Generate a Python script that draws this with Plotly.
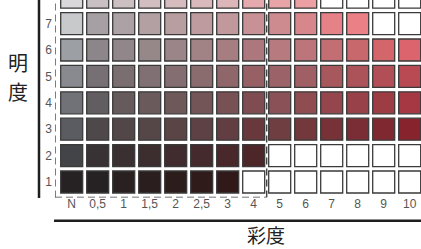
import plotly.graph_objects as go

# ---- data ----
chroma_labels = ["N", "0,5", "1", "1,5", "2", "2,5", "3", "4", "5", "6", "7", "8", "9", "10"]
value_labels = ["1", "2", "3", "4", "5", "6", "7", "8"]

# colours, one list per value (明度) row; None = empty (white) cell
v8_colors = ["#dad8da", "#c8c0c3", "#cdc0c3", "#d2bec1", "#d7bcbf", "#dab9bc", "#ddb6b9", "#e4aaad", "#e8a5a8", "#eca0a3",
             None, None, None, None]
v7_colors = ["#c8c9cb", "#a6a0a4", "#aca1a4", "#b2a0a3", "#b89ea0", "#bd9b9e", "#c1989b", "#c89196", "#cd8a8f", "#d7878c",
             "#e48287", "#eb8086", None, None]
v6_colors = ["#9c9fa4", "#8c868a", "#918689", "#968789", "#9c8588", "#a18285", "#a67e82", "#ac787d", "#b67a7f", "#bc767b",
             "#c26e73", "#c8686c", "#d2666b", "#dc646c"]
v5_colors = ["#888a8f", "#767074", "#7a6e71", "#807073", "#856e71", "#8a6b6e", "#8f676b", "#966065", "#9b6368", "#a05f64",
             "#a6585d", "#ac5259", "#b24e55", "#b94a54"]
v4_colors = ["#707277", "#625d60", "#665a5d", "#6a5a5c", "#6f585a", "#735558", "#785155", "#7e4c51", "#8a5256", "#8f4c51",
             "#94464c", "#994148", "#9e3c44", "#a53842"]
v3_colors = ["#5a5c61", "#4e484b", "#524649", "#554648", "#5a4446", "#5d4144", "#623e42", "#69383d", "#6e3e41", "#72383c",
             "#763237", "#7a2d34", "#802830", "#87232d"]
v2_colors = ["#424447", "#383234", "#3a3032", "#3c2d2e", "#402c2e", "#442a2c", "#48282a", "#4c2628",
             None, None, None, None, None, None]
v1_colors = ["#262223", "#262122", "#282021", "#2a1e1e", "#2d1c1c", "#301b1b", "#321919",
             None, None, None, None, None, None, None]

rows = [v1_colors, v2_colors, v3_colors, v4_colors, v5_colors, v6_colors, v7_colors, v8_colors]
boundary_between = ("4", "5")  # dashed group boundary lies between these chroma columns

# ---- build marks ----
xs, ys, cols = [], [], []
for vi, row in enumerate(rows):
    for ci, c in enumerate(row):
        xs.append(ci)
        ys.append(vi + 1)
        cols.append(c if c is not None else "#ffffff")

W, H = 421, 249
fig = go.Figure()
fig.add_trace(go.Scatter(
    x=xs, y=ys, mode="markers",
    marker=dict(symbol="square", size=22, color=cols,
                line=dict(color="#3a3a3a", width=1.3)),
    hoverinfo="skip", showlegend=False,
))

# axis geometry (pixel -> data)
px_left, px_bottom = 55.0, 197.5
col_pitch, row_pitch = 26.0, 26.4
col0_center, row1_center = 71.7, 182.0
x_min = (px_left - col0_center) / col_pitch
x_max = x_min + (W - px_left) / col_pitch
y_max = 1 + row1_center / row_pitch
y_min = y_max - px_bottom / row_pitch

tick_font = dict(family="Liberation Sans, Arial", size=12, color="#555555")
fig.update_xaxes(
    domain=[px_left / W, 1], range=[x_min, x_max],
    tickmode="array", tickvals=list(range(len(chroma_labels))), ticktext=chroma_labels,
    showgrid=False, zeroline=False, showline=False, ticks="",
    tickfont=tick_font, ticklabelstandoff=-3,
)
fig.update_yaxes(
    domain=[(H - px_bottom) / H, 1], range=[y_min, y_max],
    tickmode="array", tickvals=list(range(1, len(value_labels) + 1)), ticktext=value_labels,
    showgrid=False, zeroline=False, showline=False, ticks="",
    tickfont=tick_font, ticklabelstandoff=2,
)

bx = (chroma_labels.index(boundary_between[0]) + chroma_labels.index(boundary_between[1])) / 2
dash = "7px,4px"
fig.add_shape(type="line", xref="x", yref="y", x0=x_min, x1=x_min, y0=y_min, y1=y_max + 1,
              line=dict(color="#444444", width=1.4, dash=dash))
fig.add_shape(type="line", xref="x", yref="y", x0=x_min, x1=bx, y0=y_min, y1=y_min,
              line=dict(color="#444444", width=1.4, dash=dash))
fig.add_shape(type="line", xref="x", yref="y", x0=bx, x1=bx, y0=y_min, y1=y_max + 1,
              line=dict(color="#444444", width=1.4, dash=dash))

# solid frame lines
fig.add_shape(type="line", xref="paper", yref="paper", x0=39 / W, x1=39 / W, y0=(H - 198) / H, y1=1,
              line=dict(color="#1e1e1e", width=2.5))
fig.add_shape(type="line", xref="paper", yref="paper", x0=54 / W, x1=1, y0=(H - 220.7) / H, y1=(H - 220.7) / H,
              line=dict(color="#1e1e1e", width=2.5))

cjk = "Noto Sans CJK JP"
title_font = dict(family=cjk, size=20, color="#222222")
for ch, yc in (("明", 62), ("度", 91)):
    fig.add_annotation(text=ch, xref="paper", yref="paper", x=18 / W, y=(H - yc) / H,
                       showarrow=False, font=title_font, xanchor="center", yanchor="middle")
fig.add_annotation(text="彩度", xref="paper", yref="paper", x=266 / W, y=(H - 234) / H,
                   showarrow=False, font=dict(family=cjk, size=19, color="#222222"),
                   xanchor="center", yanchor="middle")

fig.update_layout(width=W, height=H, margin=dict(l=0, r=0, t=0, b=0),
                  paper_bgcolor="white", plot_bgcolor="white")
fig.write_html("out.html",
               config={"displayModeBar": False, "staticPlot": True},
               post_script="document.body.style.margin='0';document.body.style.overflow='hidden';")
